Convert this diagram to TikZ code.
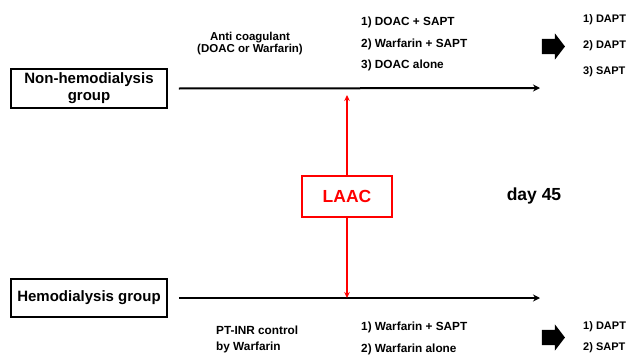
\documentclass[tikz,border=0pt]{standalone}
\usepackage{fontspec}
\setmainfont{Liberation Sans}
\usetikzlibrary{arrows.meta,shapes.arrows}
\definecolor{laacred}{HTML}{FF0000}

\begin{document}
\begin{tikzpicture}[x=1pt,y=-1pt,>=Stealth,
  group/.style={draw,line width=1.6pt,font=\fontsize{15}{17}\selectfont\bfseries,align=center,inner sep=0pt},
  small/.style={font=\fontsize{11.8}{13}\selectfont\bfseries,align=left,anchor=west,inner sep=0pt},
  bigarrow/.style={single arrow,fill=black,minimum height=23pt,minimum width=26pt,
    inner xsep=0pt,inner ysep=7.5pt,single arrow head extend=5.5pt,single arrow tip angle=105}]
  \useasboundingbox (0,0) rectangle (632,356);
  % groups
  \node[group,minimum width=156pt,minimum height=39pt] (nhd) at (89,88.5) {Non-hemodialysis\\group};
  \node[group,minimum width=156pt,minimum height=38pt] (hd) at (89,298) {Hemodialysis group};
  % time lines
  \coordinate (topend) at (540,88);
  \coordinate (botend) at (540,298);
  \draw[line width=2pt,-{Stealth[length=7pt,width=7pt]}] ([xshift=11pt]nhd.east) -- (topend);
  \draw[line width=2pt,-{Stealth[length=7pt,width=7pt]}] ([xshift=11pt]hd.east) -- (botend);
  % LAAC
  \node[draw=laacred,text=laacred,line width=1.6pt,minimum width=90pt,minimum height=41pt,
        font=\fontsize{17.5}{19}\selectfont\bfseries] (laac) at (347,196.5) {LAAC};
  \coordinate (uptip) at (347,95);
  \coordinate (downtip) at (347,298);
  \draw[laacred,line width=1.6pt,-{Stealth[length=6pt,width=5.5pt]}] (laac.north) -- (uptip);
  \draw[laacred,line width=1.6pt,-{Stealth[length=6pt,width=5.5pt]}] (laac.south) -- (downtip);
  \node[font=\fontsize{17.5}{19}\selectfont\bfseries] (day) at (534,196) {day 45};
  % non-hemodialysis regimens
  \node[font=\fontsize{11.5}{12.5}\selectfont\bfseries,align=center] (anti) at (250,43.5) {Anti coagulant\\(DOAC or Warfarin)};
  \node[small] (nr1) at (361,22) {1) DOAC + SAPT};
  \node[small] (nr2) at (361,44) {2) Warfarin + SAPT};
  \node[small] (nr3) at (361,65.5) {3) DOAC alone};
  \node[bigarrow] (nar) at (550.5,46.5) {};
  \node[small,font=\fontsize{11}{13}\selectfont\bfseries] (na1) at (583,19.5) {1) DAPT};
  \node[small,font=\fontsize{11}{13}\selectfont\bfseries] (na2) at (583,46) {2) DAPT};
  \node[small,font=\fontsize{11}{13}\selectfont\bfseries] (na3) at (583,72) {3) SAPT};
  % hemodialysis regimens
  \node[small,font=\fontsize{11.8}{16}\selectfont\bfseries] (pt) at (216,339) {PT-INR control\\by Warfarin};
  \node[small] (hr1) at (361,327) {1) Warfarin + SAPT};
  \node[small] (hr2) at (361,349) {2) Warfarin alone};
  \node[bigarrow] (har) at (550.5,337.5) {};
  \node[small,font=\fontsize{11}{13}\selectfont\bfseries] (ha1) at (583,327) {1) DAPT};
  \node[small,font=\fontsize{11}{13}\selectfont\bfseries] (ha2) at (583,348) {2) SAPT};
\end{tikzpicture}
\end{document}
